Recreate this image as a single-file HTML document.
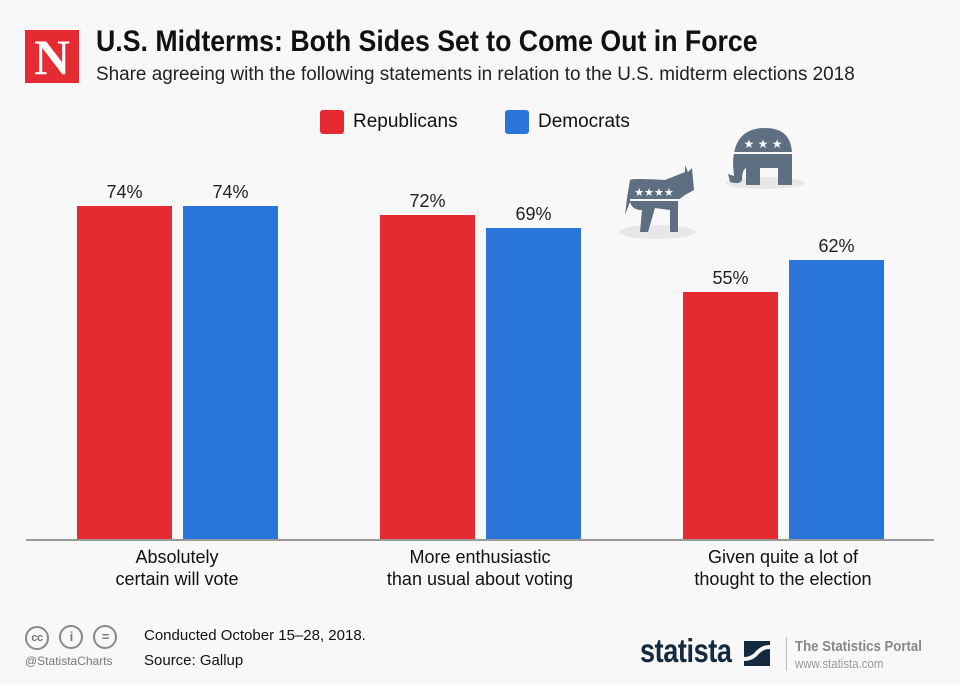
<!DOCTYPE html>
<html><head><meta charset="utf-8"><style>
*{margin:0;padding:0}
body{width:960px;height:684px;background:#f8f8f8;font-family:"Liberation Sans",sans-serif;position:relative;overflow:hidden}
.a{position:absolute}
.bar{position:absolute;width:95px;bottom:144px}
.r{background:#e62a32}.b{background:#2a75da}
.v{position:absolute;width:95px;text-align:center;font-size:18px;color:#222}
.lab{position:absolute;width:300px;text-align:center;font-size:18px;line-height:22px;color:#111}
</style></head><body>
<div class="a" style="left:25px;top:30px;width:54px;height:53px;background:#e62a32;color:#fff;font-family:'Liberation Serif',serif;font-weight:bold;font-size:50px;line-height:55px;text-align:center">N</div>
<div class="a" style="left:96px;top:25px;font-size:30px;font-weight:bold;color:#111;transform:scaleX(0.89);transform-origin:left;white-space:nowrap">U.S. Midterms: Both Sides Set to Come Out in Force</div>
<div class="a" style="left:96px;top:64px;font-size:19px;color:#222;transform:scaleX(0.995);transform-origin:left;white-space:nowrap">Share agreeing with the following statements in relation to the U.S. midterm elections 2018</div>
<div class="a r" style="left:320px;top:110px;width:24px;height:24px;border-radius:3px"></div>
<div class="a" style="left:353px;top:111px;font-size:19px;color:#111">Republicans</div>
<div class="a b" style="left:505px;top:110px;width:24px;height:24px;border-radius:3px"></div>
<div class="a" style="left:538px;top:111px;font-size:19px;color:#111">Democrats</div>
<svg class="a" style="left:600px;top:110px" width="220" height="140">
<ellipse cx="165" cy="73" rx="40" ry="6" fill="#e8e8e8"/>
<path d="M133 55 Q133 18 165 18 Q192 18 192 45 L192 75 L178 75 L178 58 L160 58 L160 75 L146 75 L146 58 Q142 60 142 70 Q140 75 130 72 L128 64 L134 66 Z" fill="#5f6f82"/>
<rect x="133" y="42" width="60" height="2" fill="#f8f8f8"/>
<text x="163" y="38" fill="#fff" font-size="12" text-anchor="middle">★ ★ ★</text>
<ellipse cx="57" cy="122" rx="38" ry="7" fill="#e8e8e8"/>
<path d="M30 70 Q32 68 65 70 L85 62 L85 55 L88 62 L92 58 L94 80 L85 85 L78 90 L78 122 L70 122 L70 100 L55 98 L48 122 L40 122 L42 100 Q32 100 30 92 L25 105 L27 88 Z" fill="#5f6f82"/>
<rect x="30" y="89" width="50" height="2" fill="#f8f8f8"/>
<text x="54" y="86" fill="#fff" font-size="11" text-anchor="middle">★★★★</text>
</svg>
<div class="bar r" style="left:77px;height:334px"></div>
<div class="bar b" style="left:183px;height:334px"></div>
<div class="bar r" style="left:380px;height:325px"></div>
<div class="bar b" style="left:486px;height:312px"></div>
<div class="bar r" style="left:683px;height:248px"></div>
<div class="bar b" style="left:789px;height:280px"></div>
<div class="v" style="left:77px;top:182px">74%</div>
<div class="v" style="left:183px;top:182px">74%</div>
<div class="v" style="left:380px;top:191px">72%</div>
<div class="v" style="left:486px;top:204px">69%</div>
<div class="v" style="left:683px;top:268px">55%</div>
<div class="v" style="left:789px;top:236px">62%</div>
<div class="a" style="left:26px;top:539px;width:908px;height:2px;background:#999"></div>
<div class="lab" style="left:27px;top:546px">Absolutely<br>certain will vote</div>
<div class="lab" style="left:330px;top:546px">More enthusiastic<br>than usual about voting</div>
<div class="lab" style="left:633px;top:546px">Given quite a lot of<br>thought to the election</div>
<div class="a" style="left:25px;top:625px;font-size:13px;color:#777;letter-spacing:-0.5px">
<span style="display:inline-block;width:20px;height:20px;border:2px solid #888;border-radius:50%;text-align:center;line-height:20px;font-size:11px;font-weight:bold">cc</span>
<span style="display:inline-block;width:20px;height:20px;border:2px solid #888;border-radius:50%;text-align:center;line-height:20px;margin-left:7px;font-weight:bold">i</span>
<span style="display:inline-block;width:20px;height:20px;border:2px solid #888;border-radius:50%;text-align:center;line-height:20px;margin-left:7px;font-weight:bold">=</span></div>
<div class="a" style="left:25px;top:654px;font-size:12px;color:#777">@StatistaCharts</div>
<div class="a" style="left:144px;top:627px;font-size:15px;color:#111">Conducted October 15–28, 2018.</div>
<div class="a" style="left:144px;top:652px;font-size:15px;color:#111">Source: Gallup</div>
<div class="a" style="left:640px;top:632px;font-size:33px;font-weight:bold;color:#142a3e;transform:scaleX(0.82);transform-origin:left;letter-spacing:-0.5px">statista</div>
<div class="a" style="left:744px;top:641px;width:26px;height:25px;background:#142a3e"></div>
<svg class="a" style="left:744px;top:641px" width="26" height="25"><path d="M0 18 Q8 18 13 12 Q18 6 26 6" stroke="#f8f8f8" stroke-width="4" fill="none"/></svg>
<div class="a" style="left:786px;top:637px;width:1px;height:34px;background:#bbb"></div>
<div class="a" style="left:795px;top:638px;font-size:15px;font-weight:bold;color:#888;transform:scaleX(0.88);transform-origin:left;white-space:nowrap">The Statistics Portal</div>
<div class="a" style="left:795px;top:656px;font-size:13px;color:#999;transform:scaleX(0.88);transform-origin:left">www.statista.com</div>
</body></html>
